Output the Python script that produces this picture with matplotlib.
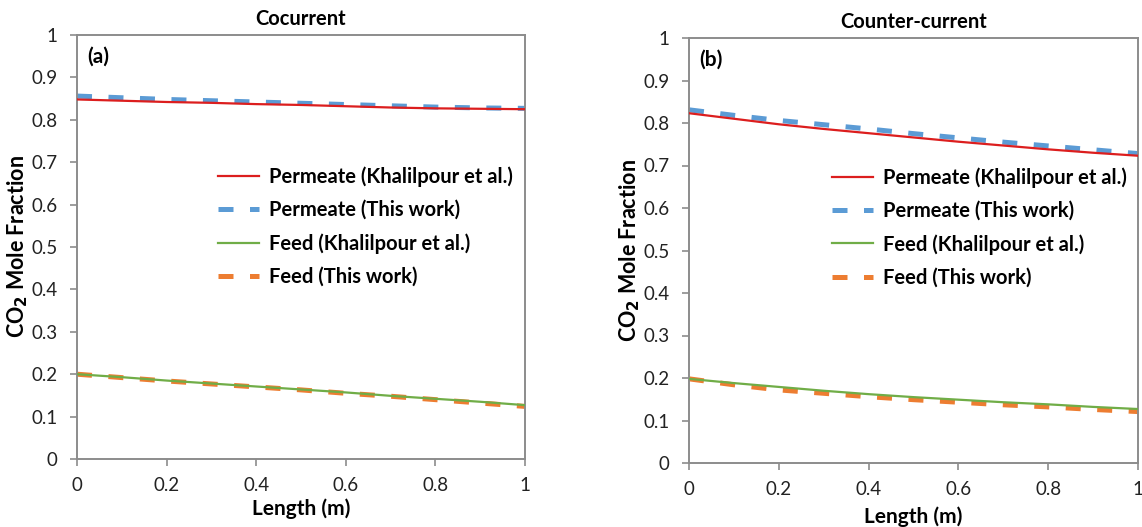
import matplotlib
matplotlib.use("Agg")
import matplotlib.pyplot as plt
import numpy as np

plt.rcParams['font.family'] = ['Lato', 'DejaVu Sans']

# Position along the module (m)
length = [0.0, 0.1, 0.2, 0.3, 0.4, 0.5, 0.6, 0.7, 0.8, 0.9, 1.0]

# (a) Cocurrent
co_perm_ref = [0.848, 0.845, 0.842, 0.840, 0.837, 0.835, 0.832, 0.829, 0.827, 0.826, 0.825]
co_perm_new = [0.856, 0.852, 0.848, 0.845, 0.842, 0.839, 0.836, 0.833, 0.830, 0.828, 0.827]
co_feed_ref = [0.200, 0.193, 0.185, 0.178, 0.171, 0.164, 0.157, 0.149, 0.142, 0.135, 0.127]
co_feed_new = [0.200, 0.192, 0.184, 0.177, 0.170, 0.163, 0.155, 0.148, 0.140, 0.132, 0.124]

# (b) Counter-current
cc_perm_ref = [0.823, 0.810, 0.797, 0.786, 0.776, 0.766, 0.756, 0.747, 0.738, 0.730, 0.723]
cc_perm_new = [0.831, 0.818, 0.806, 0.796, 0.786, 0.775, 0.765, 0.755, 0.746, 0.737, 0.728]
cc_feed_ref = [0.198, 0.188, 0.179, 0.170, 0.162, 0.155, 0.149, 0.143, 0.138, 0.132, 0.127]
cc_feed_new = [0.198, 0.184, 0.172, 0.164, 0.156, 0.149, 0.143, 0.137, 0.132, 0.126, 0.121]

series_labels = ["Permeate (Khalilpour et al.)", "Permeate (This work)",
                 "Feed (Khalilpour et al.)", "Feed (This work)"]
titles = ["Cocurrent", "Counter-current"]
panel_tags = ["(a)", "(b)"]
x_ticks = [0, 0.2, 0.4, 0.6, 0.8, 1]
y_ticks = [0, 0.1, 0.2, 0.3, 0.4, 0.5, 0.6, 0.7, 0.8, 0.9, 1]

RED = "#DC1E1E"
BLUE = "#5B9BD5"
GREEN = "#70AD47"
ORANGE = "#ED7D31"
SPINE = "#8C8C8C"

W, H = 1142, 527
fig = plt.figure(figsize=(W / 100, H / 100), dpi=100)

def px_axes(l, t, r, b):
    return fig.add_axes([l / W, 1 - b / H, (r - l) / W, (b - t) / H])

ax_a = px_axes(77, 35, 525, 459)
ax_b = px_axes(689, 38, 1138, 463)

# axes, data, legend anchor, y-label x, x-label y (axes fractions)
panels = [
    (ax_a, co_perm_ref, co_perm_new, co_feed_ref, co_feed_new, (0.315, 0.690), -0.106, -0.093),
    (ax_b, cc_perm_ref, cc_perm_new, cc_feed_ref, cc_feed_new, (0.318, 0.696), -0.104, -0.102),
]

for i, (ax, p_ref, p_new, f_ref, f_new, leg_anchor, ylx, xly) in enumerate(panels):
    ax.plot(length, p_ref, color=RED, lw=1.6, label=series_labels[0], zorder=3)
    ax.plot(length, p_new, color=BLUE, lw=3.6, dashes=(3.0, 3.3),
            dash_capstyle='butt', label=series_labels[1], zorder=2)
    ax.plot(length, f_ref, color=GREEN, lw=1.6, label=series_labels[2], zorder=3)
    ax.plot(length, f_new, color=ORANGE, lw=3.6, dashes=(3.0, 3.3),
            dash_capstyle='butt', label=series_labels[3], zorder=2)

    ax.set_xlim(0, 1)
    ax.set_ylim(0, 1)
    ax.set_xticks(x_ticks)
    ax.set_xticklabels([f"{v:g}" for v in x_ticks])
    ax.set_yticks(y_ticks)
    ax.set_yticklabels([f"{v:g}" for v in y_ticks])
    ax.tick_params(axis='both', direction='out', length=5, width=1.2,
                   color=SPINE, labelsize=13.5, labelcolor="#222222")
    ax.tick_params(axis='x', pad=8)
    ax.tick_params(axis='y', pad=9)
    for sp in ax.spines.values():
        sp.set_color(SPINE)
        sp.set_linewidth(1.4)

    ax.set_title(titles[i], fontsize=14.5, fontweight='bold', pad=7)
    ax.set_xlabel("Length (m)", fontsize=15, fontweight='bold')
    ax.xaxis.set_label_coords(0.5, xly)
    ax.set_ylabel("CO$_\\mathbf{2}$ Mole Fraction", fontsize=15.5, fontweight='bold')
    ax.yaxis.set_label_coords(ylx, 0.5)
    ax.text(0.022, 0.948, panel_tags[i], transform=ax.transAxes,
            fontsize=15, fontweight='bold', ha='left', va='center')

    ax.legend(loc='upper left', bbox_to_anchor=leg_anchor, frameon=False,
              borderpad=0, borderaxespad=0, handlelength=2.05,
              handletextpad=0.5, labelspacing=0.65,
              prop={'weight': 'bold', 'size': 14.5})

fig.savefig("out.png", dpi=100)
